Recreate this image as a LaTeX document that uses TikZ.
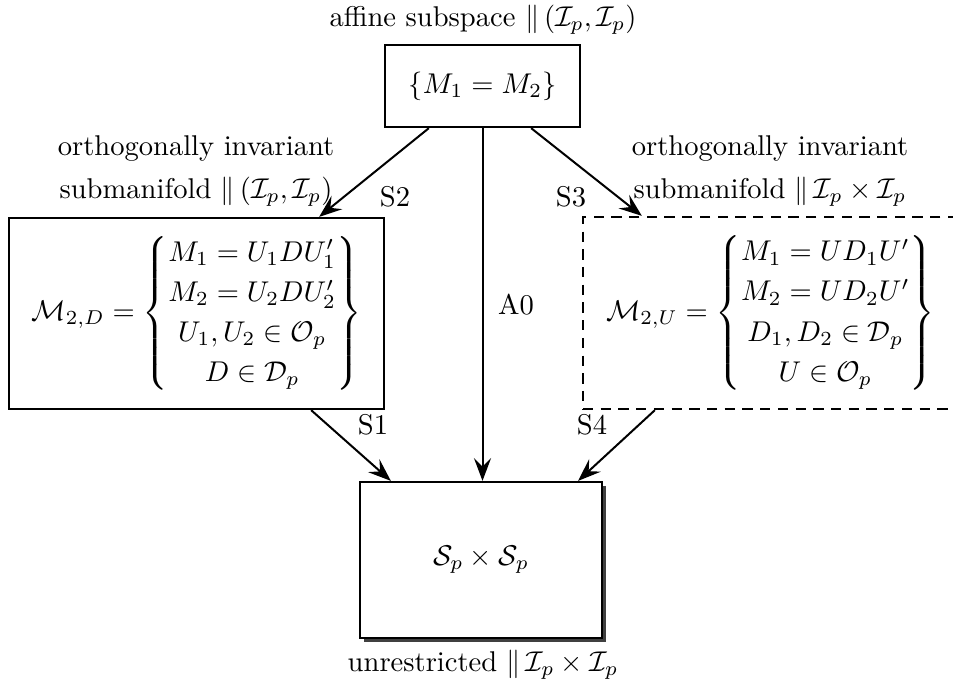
\documentclass[tikz,border=0pt]{standalone}
\usepackage{amsmath}
\usepackage{amssymb}
\usetikzlibrary{
  arrows.meta,
  positioning,
  calc,
  shadows
}
\newcommand{\pxu}{0.35pt}
\renewcommand{\arraystretch}{1.17}

\begin{document}
\begin{tikzpicture}[x=\pxu, y=-\pxu,
  box/.style={draw, line width=0.8pt, inner sep=0pt, align=center},
  dbox/.style={box, dash pattern=on 3.6pt off 2.6pt},
  arr/.style={-{Stealth[length=8pt, width=6pt, inset=3pt]}, line width=0.7pt},
  lbl/.style={inner sep=0pt, align=center}]
  \clip (0,0) rectangle (953,686);

  % boxes
  \node[box, minimum width={195*\pxu}, minimum height={82*\pxu}] (top) at (482.5, 86)
    {$\{M_1 = M_2\}$};
  \node[box, minimum width={375*\pxu}, minimum height={191*\pxu}] (left) at (196.5, 313.5)
    {$\mathcal{M}_{2,D} = \left\{\begin{array}{@{}c@{}}
      M_1 = U_1 D U_1' \\ M_2 = U_2 D U_2' \\ U_1, U_2 \in \mathcal{O}_p \\ D \in \mathcal{D}_p
    \end{array}\right\}$};
  \node[dbox, minimum width={375*\pxu}, minimum height={192*\pxu}] (right) at (770.5, 313)
    {$\mathcal{M}_{2,U} = \left\{\begin{array}{@{}c@{}}
      M_1 = U D_1 U' \\ M_2 = U D_2 U' \\ D_1, D_2 \in \mathcal{D}_p \\ U \in \mathcal{O}_p
    \end{array}\right\}$};
  \node[box, fill=white, minimum width={242*\pxu}, minimum height={156*\pxu},
    drop shadow={shadow xshift=1.5pt, shadow yshift=-1.5pt, fill=black!75, opacity=1}]
    (bot) at (481, 560) {$\mathcal{S}_p \times \mathcal{S}_p$};

  % labels
  \node[lbl] (toplbl) at (483, 20) {affine subspace $\|\, (\mathcal{I}_p, \mathcal{I}_p)$};
  \node[lbl] (leftlbl) at (196, 171)
    {orthogonally invariant\\[3pt] submanifold $\|\, (\mathcal{I}_p, \mathcal{I}_p)$};
  \node[lbl] (rightlbl) at (770, 171)
    {orthogonally invariant\\[3pt] submanifold $\|\, \mathcal{I}_p \times \mathcal{I}_p$};
  \node[lbl] (botlbl) at (483, 665) {unrestricted $\|\, \mathcal{I}_p \times \mathcal{I}_p$};

  % arrows
  \draw[arr] ($(top.south west)+(45,0)$) -- ($(left.north east)+(-66,0)$);
  \draw[arr] ($(top.south east)+(-50,0)$) -- ($(right.north west)+(60,0)$);
  \draw[arr] (top.south) -- (top.south |- bot.north);
  \draw[arr] ($(left.south east)+(-74,0)$) -- ($(bot.north west)+(32,0)$);
  \draw[arr] ($(right.south west)+(73,0)$) -- ($(bot.north east)+(-25,0)$);

  \node[lbl] (s2) at (395, 197) {S2};
  \node[lbl] (s3) at (571, 197) {S3};
  \node[lbl] (a0) at (516, 305) {A0};
  \node[lbl] (s1) at (373, 425) {S1};
  \node[lbl] (s4) at (592, 425) {S4};
\end{tikzpicture}
\end{document}
